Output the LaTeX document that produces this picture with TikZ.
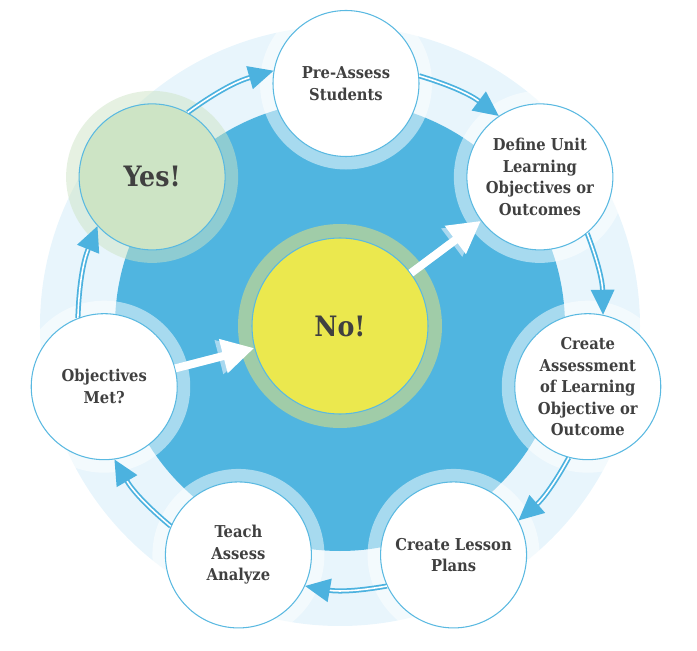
\documentclass[tikz,border=0pt]{standalone}
\usepackage{fontspec}
\setmainfont{DejaVu Serif Condensed}
\usetikzlibrary{arrows.meta}
\definecolor{sky}{RGB}{80,181,224}
\definecolor{pale}{RGB}{232,245,252}
\definecolor{rim}{RGB}{90,185,225}
\definecolor{tipblue}{RGB}{76,178,223}
\definecolor{ink}{RGB}{64,64,64}
\definecolor{lemon}{RGB}{235,232,78}
\definecolor{sage}{RGB}{160,204,168}
\definecolor{mint}{RGB}{205,228,197}
\definecolor{glow}{RGB}{168,216,240}
\tikzset{
  stage/.style={circle,draw=rim,line width=0.6pt,fill=#1,minimum size=2.92cm,inner sep=0pt,
    align=center,text=ink,font=\fontsize{9.3}{12.3}\selectfont\bfseries,
    preaction={draw=#1,draw opacity=0.5,line width=0.52cm}},
  stage/.default=white,
  big/.style={font=\fontsize{16}{18}\selectfont\bfseries},
  hub/.style={circle,draw=rim,line width=0.6pt,fill=lemon,minimum size=3.52cm,inner sep=0pt,
    text=ink,preaction={draw=sage,line width=0.56cm}},
  cycle arrow/.style={draw=tipblue,line width=1pt,double=white,double distance=0.9pt,
    -{Triangle[length=0.5cm,width=0.47cm]}},
  jump/.style={draw=white,line width=0.16cm,-{Triangle[length=0.64cm,width=0.66cm]}},
  jump glow/.style={jump,draw=glow,shorten >=0.09cm},
}
\begin{document}
\begin{tikzpicture}
  \useasboundingbox (-6.8,-6.5) rectangle (7.14,6.52);
  \fill[pale] (0,0) circle (6);
  \fill[sky] (0,0) circle (4.5);
  \coordinate (ring) at (0.12,-0.11);
  \foreach \n/\a/\t in {pre/90/{Pre-Assess\\Students},def/38.57/{Define Unit\\Learning\\Objectives or\\Outcomes},
    ass/-12.86/{Create\\Assessment\\of Learning\\Objective or\\Outcome},les/-64.29/{Create Lesson\\Plans},
    tea/-115.71/{Teach\\Assess\\Analyze},obj/-167.14/{Objectives\\Met?}}{
    \node[stage] (\n) at ([shift={(\a:4.96)}]ring) {\t};
  }
  \node[stage=mint,big] (yes) at ([shift={(141.43:4.96)}]ring) {Yes!};
  \node[hub,big] (no) at (0,0) {No!};
  \foreach \s/\e in {yes.61.94/pre.170.4,pre.6.77/def.124.05,def.-50.65/ass.78.13,ass.-105.67/les.28.7,
    les.-155.95/tea.-25.58,tea.157.75/obj.-82.91,obj.111.82/yes.-138.8}
    \draw[cycle arrow] (\s) to[bend left=10] (\e);
  \draw[jump glow] (obj) -- (no);
  \draw[jump] (obj) -- (no);
  \draw[jump glow] (no) -- (def);
  \draw[jump] (no) -- (def);
\end{tikzpicture}
\end{document}
